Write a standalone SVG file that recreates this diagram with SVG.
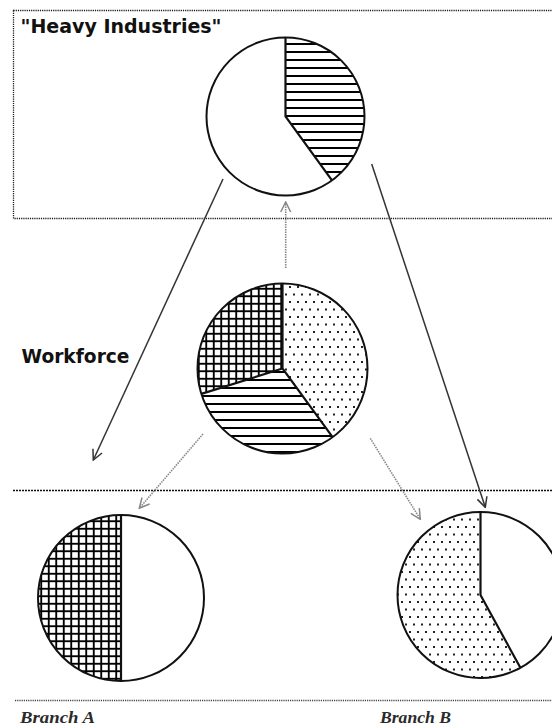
<svg xmlns="http://www.w3.org/2000/svg" width="552" height="725" viewBox="0 0 552 725">
<style>
.pie{stroke:#111;stroke-width:2;fill:none}
.cut{stroke:#111;stroke-width:2.2;fill:none;stroke-linejoin:miter}
.lbl{font-family:"DejaVu Sans","Liberation Sans",sans-serif;font-weight:bold;font-size:19px;fill:#111}
.br{font-family:"Liberation Serif","DejaVu Serif",serif;font-style:italic;font-weight:bold;font-size:17px;fill:#2a2a2a}
.solid{stroke:#333;stroke-width:1.5;fill:none}
.dot{stroke:#888;stroke-width:1.6;fill:none;stroke-dasharray:1.5 1}
</style>
<defs>
<pattern id="hatch" width="8" height="8" patternUnits="userSpaceOnUse">
<rect width="8" height="8" fill="#fff"/>
<line x1="0" y1="4" x2="8" y2="4" stroke="#000" stroke-width="2"/>
</pattern>
<pattern id="cross" width="7.5" height="7.5" patternUnits="userSpaceOnUse">
<rect width="7.5" height="7.5" fill="#fff"/>
<line x1="0" y1="3.75" x2="7.5" y2="3.75" stroke="#000" stroke-width="1.9"/>
<line x1="3.75" y1="0" x2="3.75" y2="7.5" stroke="#000" stroke-width="1.9"/>
</pattern>
<pattern id="dots" width="8" height="15" patternUnits="userSpaceOnUse">
<rect width="8" height="15" fill="#fff"/>
<rect x="1" y="1" width="2" height="2" fill="#222"/>
<rect x="5" y="8.5" width="2" height="2" fill="#222"/>
</pattern>
<marker id="ah" viewBox="0 0 12 12" refX="11" refY="6" markerWidth="12" markerHeight="12" markerUnits="userSpaceOnUse" orient="auto">
<path d="M1,1 L11,6 L1,11" fill="none" stroke="#333" stroke-width="1.5"/>
</marker>
<marker id="ahg" viewBox="0 0 12 12" refX="11" refY="6" markerWidth="12" markerHeight="12" markerUnits="userSpaceOnUse" orient="auto">
<path d="M1,1 L11,6 L1,11" fill="none" stroke="#888" stroke-width="1.5"/>
</marker>
</defs>
<rect width="552" height="725" fill="#fff"/>

<g id="frames">
<rect x="13.5" y="10.5" width="600" height="208" fill="none" stroke="#1a1a1a" stroke-width="1.3" stroke-dasharray="1.2 1"/>
<line x1="13" y1="490.5" x2="552" y2="490.5" stroke="#111" stroke-width="1.5" stroke-dasharray="2 1"/>
<line x1="15" y1="700.5" x2="552" y2="700.5" stroke="#444" stroke-width="1.4" stroke-dasharray="1.2 1"/>
</g>

<g id="heavy-industries">
<text class="lbl" x="20.5" y="32.5" textLength="201" lengthAdjust="spacingAndGlyphs">"Heavy Industries"</text>
<circle cx="285.5" cy="116.5" r="79" fill="#fff"/>
<path d="M285.5,116.5 L285.5,37.5 A79,79 0 0 1 332,180.4 Z" fill="url(#hatch)"/>
<circle class="pie" cx="285.5" cy="116.5" r="79"/>
<path class="cut" d="M285.5,37.5 L285.5,116.5 L332,180.4"/>
</g>

<g id="workforce">
<text class="lbl" x="21.5" y="363" textLength="108" lengthAdjust="spacingAndGlyphs">Workforce</text>
<path d="M282.5,368.5 L282.5,283.5 A85,85 0 0 1 332.6,437.2 Z" fill="url(#dots)"/>
<path d="M282.5,368.5 L332.6,437.2 A85,85 0 0 1 201.4,393.9 Z" fill="url(#hatch)"/>
<path d="M282.5,368.5 L201.4,393.9 A85,85 0 0 1 282.5,283.5 Z" fill="url(#cross)"/>
<circle class="pie" cx="282.5" cy="368.5" r="85"/>
<path class="cut" d="M282.5,283.5 L282.5,368.5 L332.6,437.2 M282.5,368.5 L201.4,393.9"/>
</g>

<g id="branch-a">
<circle cx="121" cy="598" r="83" fill="#fff"/>
<path d="M121,515 A83,83 0 0 0 121,681 Z" fill="url(#cross)"/>
<circle class="pie" cx="121" cy="598" r="83"/>
<line class="cut" x1="121" y1="515" x2="121" y2="681"/>
<text class="br" x="20" y="722.5" textLength="75" lengthAdjust="spacingAndGlyphs">Branch A</text>
</g>

<g id="branch-b">
<circle cx="480.5" cy="595" r="83" fill="#fff"/>
<path d="M480.5,595 L520.4,667.8 A83,83 0 1 1 480.5,512 Z" fill="url(#dots)"/>
<circle class="pie" cx="480.5" cy="595" r="83"/>
<path class="cut" d="M480.5,512 L480.5,595 L520.4,667.8"/>
<text class="br" x="380" y="722.5" textLength="71" lengthAdjust="spacingAndGlyphs">Branch B</text>
</g>

<g id="connectors">
<line class="solid" x1="223" y1="179" x2="93.3" y2="460" marker-end="url(#ah)"/>
<line class="solid" x1="371.7" y1="164" x2="485.3" y2="507.3" marker-end="url(#ah)"/>
<line class="dot" x1="285.7" y1="268" x2="285.7" y2="202" marker-end="url(#ahg)"/>
<line class="dot" x1="203" y1="434" x2="139.3" y2="508.3" marker-end="url(#ahg)"/>
<line class="dot" x1="370.3" y1="438.3" x2="420.3" y2="519.3" marker-end="url(#ahg)"/>
</g>
</svg>
